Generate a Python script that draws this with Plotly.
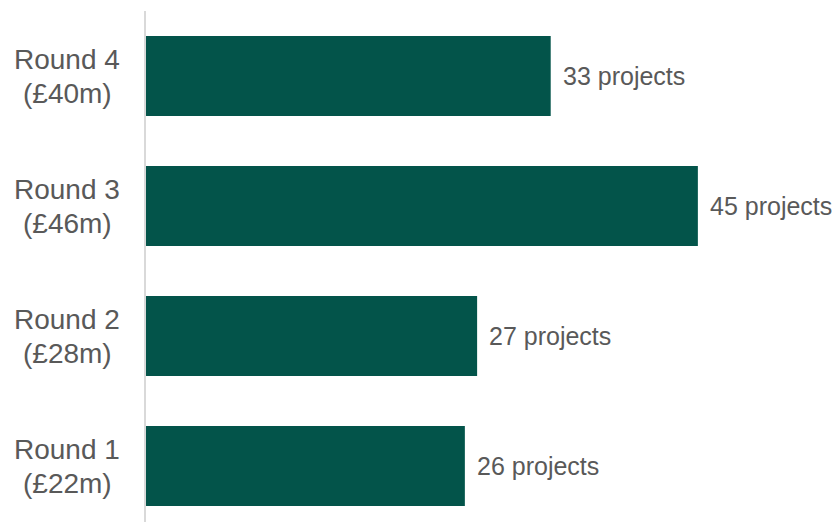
import plotly.graph_objects as go

# Funding rounds (bottom to top) with the number of projects funded
rounds = ["Round 1", "Round 2", "Round 3", "Round 4"]
funding = ["£22m", "£28m", "£46m", "£40m"]
projects = [26, 27, 45, 33]

bar_color = "#03544A"
text_color = "#595959"
font_family = "Liberation Sans, Arial, sans-serif"

fig = go.Figure(
    go.Bar(
        y=rounds,
        x=projects,
        orientation="h",
        marker=dict(color=bar_color, line=dict(width=0)),
        hoverinfo="skip",
    )
)

annotations = []
# Value labels to the right of each bar
for r, p in zip(rounds, projects):
    annotations.append(dict(
        x=p, y=r, xref="x", yref="y",
        text=f"{p} projects", showarrow=False,
        xanchor="left", yanchor="middle", xshift=10,
        font=dict(family=font_family, size=25, color=text_color),
    ))
# Category labels: round name above, funding below, centred on each other
label_centre = -79  # centre of the label block, px left of the axis
for r, f in zip(rounds, funding):
    for line, shift in ((r, 17), (f"({f})", -17)):
        annotations.append(dict(
            x=0, y=r, xref="paper", yref="y",
            text=line, showarrow=False, align="center",
            xanchor="center", yanchor="middle",
            xshift=label_centre, yshift=shift,
            font=dict(family=font_family, size=28, color=text_color),
        ))

fig.update_layout(
    width=834, height=522,
    margin=dict(l=146, r=0, t=11, b=0),
    paper_bgcolor="white", plot_bgcolor="white",
    bargap=0.385,
    showlegend=False,
    annotations=annotations,
    xaxis=dict(range=[0, 56.1], visible=False, fixedrange=True),
    yaxis=dict(
        range=[-0.43, 3.5], showticklabels=False, showgrid=False, zeroline=False,
        showline=True, linecolor="#D9D9D9", linewidth=2, ticks="", fixedrange=True,
    ),
)

fig.write_html("out.html")
